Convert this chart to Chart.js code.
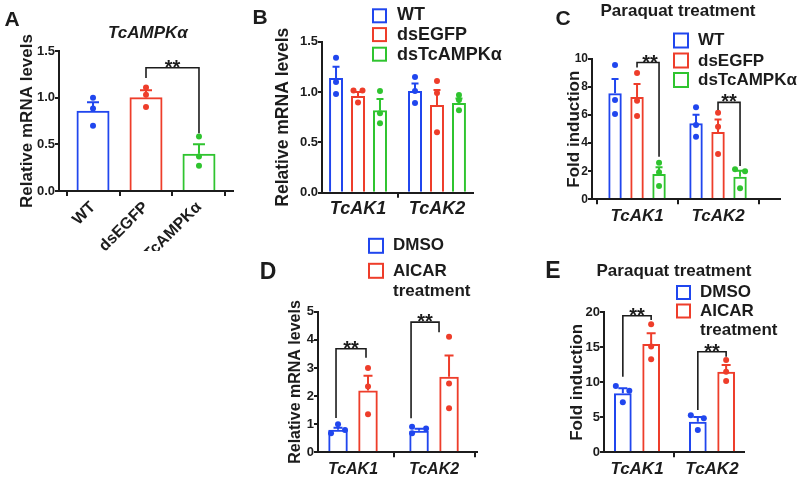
<!DOCTYPE html>
<html><head><meta charset="utf-8">
<script src="https://cdn.jsdelivr.net/npm/chart.js@4.4.1/dist/chart.umd.min.js"></script>
<style>
html,body{margin:0;padding:0;background:#fff;}
#wrap{position:relative;width:800px;height:478px;overflow:hidden;background:#fff;}
canvas{position:absolute;left:0;top:0;}
</style></head><body>
<div id="wrap">
<canvas id="cA" width="800" height="478"></canvas>
<canvas id="cB" width="800" height="478"></canvas>
<canvas id="cC" width="800" height="478"></canvas>
<canvas id="cD" width="800" height="478"></canvas>
<canvas id="cE" width="800" height="478"></canvas>
</div>
<script>
// ================= DATA =================
// Panel A: TcAMPKα
const catsA = ['WT', 'dsEGFP', 'dsTcAMPKα'];
const meanA = [0.86, 1.005, 0.40];
const semA  = [0.09, 0.075, 0.10];
const ptsA  = [[1.00, 0.885, 0.70], [1.11, 1.03, 0.90], [0.585, 0.37, 0.27]];
const yTicksA = [0, 0.5, 1.0, 1.5];

// Panel B: relative mRNA levels
const catsB = ['TcAK1', 'TcAK2'];
const namesB = ['WT', 'dsEGFP', 'dsTcAMPKα'];
const meanB_WT = [1.14, 1.01];   const semB_WT = [0.11, 0.075];
const ptsB_WT  = [[1.34, 1.10, 0.98], [1.15, 1.01, 0.89]];
const meanB_EG = [0.96, 0.87];   const semB_EG = [0.04, 0.15];
const ptsB_EG  = [[1.015, 1.015, 0.895], [1.11, 0.99, 0.60]];
const meanB_KD = [0.82, 0.89];   const semB_KD = [0.11, 0.045];
const ptsB_KD  = [[1.01, 0.79, 0.69], [0.97, 0.92, 0.82]];
const yTicksB = [0, 0.5, 1.0, 1.5];

// Panel C: paraquat fold induction
const catsC = ['TcAK1', 'TcAK2'];
const namesC = ['WT', 'dsEGFP', 'dsTcAMPKα'];
const meanC_WT = [7.55, 5.42];   const semC_WT = [1.03, 0.60];
const ptsC_WT  = [[9.57, 7.08, 6.08], [6.56, 5.30, 4.45]];
const meanC_EG = [7.30, 4.80];   const semC_EG = [0.92, 0.88];
const ptsC_EG  = [[9.00, 7.03, 5.94], [6.17, 5.17, 3.23]];
const meanC_KD = [1.80, 1.61];   const semC_KD = [0.48, 0.43];
const ptsC_KD  = [[2.60, 1.92, 0.95], [2.14, 2.00, 0.78]];
const yTicksC = [0, 2, 4, 6, 8, 10];

// Panel D: AICAR, relative mRNA levels
const catsD = ['TcAK1', 'TcAK2'];
const namesD = ['DMSO', 'AICAR', 'treatment'];
const meanD_DM = [0.80, 0.77];   const semD_DM = [0.07, 0.07];
const ptsD_DM  = [[1.00, 0.68, 0.79], [0.91, 0.85, 0.68]];
const meanD_AI = [2.20, 2.69];   const semD_AI = [0.52, 0.75];
const ptsD_AI  = [[3.00, 2.34, 1.35], [4.11, 2.45, 1.57]];
const yTicksD = [0, 1, 2, 3, 4, 5];

// Panel E: AICAR, paraquat fold induction
const catsE = ['TcAK1', 'TcAK2'];
const meanE_DM = [8.43, 4.38];   const semE_DM = [0.71, 0.66];
const ptsE_DM  = [[9.47, 8.80, 7.14], [5.28, 4.86, 3.19]];
const meanE_AI = [15.47, 11.52]; const semE_AI = [1.53, 0.95];
const ptsE_AI  = [[18.3, 15.1, 13.3], [13.19, 11.5, 10.19]];
const yTicksE = [0, 5, 10, 15, 20];

// ================= STYLE =================
const FONT = "'Liberation Sans', Arial, Helvetica, sans-serif";
const INK = '#1c1c1c';
const BLUE = '#2046ee', RED = '#ee3d2a', GREEN = '#2fc42f';

function decor(P) {
  return {
    id: 'decor',
    afterDatasetsDraw(chart) {
      const ctx = chart.ctx, ys = chart.scales.y;
      ctx.save();
      P.series.forEach((s, si) => {
        const meta = chart.getDatasetMeta(si);
        meta.data.forEach((bar, ci) => {
          const col = Array.isArray(s.color) ? s.color[ci] : s.color;
          const y0 = ys.getPixelForValue(s.mean[ci]);
          const y1 = ys.getPixelForValue(s.mean[ci] + s.sem[ci]);
          ctx.strokeStyle = col; ctx.lineWidth = 2; ctx.lineCap = 'butt';
          ctx.beginPath();
          ctx.moveTo(bar.x, y0); ctx.lineTo(bar.x, y1);
          ctx.moveTo(bar.x - P.capW / 2, y1); ctx.lineTo(bar.x + P.capW / 2, y1);
          ctx.stroke();
          ctx.fillStyle = col;
          s.pts[ci].forEach((v, k) => {
            const jx = (s.jit && s.jit[ci]) ? s.jit[ci][k] : 0;
            ctx.beginPath();
            ctx.arc(bar.x + jx, ys.getPixelForValue(v), P.ptR, 0, Math.PI * 2);
            ctx.fill();
          });
        });
      });
      (P.brackets || []).forEach(b => {
        const ba = chart.getDatasetMeta(b.a[0]).data[b.a[1]];
        const bb = chart.getDatasetMeta(b.b[0]).data[b.b[1]];
        const xa = ba.x + (b.dxa || 0), xb = bb.x + (b.dxb || 0);
        const yt = ys.getPixelForValue(b.top);
        const ya = ys.getPixelForValue(b.aEnd), yb = ys.getPixelForValue(b.bEnd);
        ctx.strokeStyle = INK; ctx.lineWidth = 1.6;
        ctx.beginPath();
        ctx.moveTo(xa, ya); ctx.lineTo(xa, yt); ctx.lineTo(xb, yt); ctx.lineTo(xb, yb);
        ctx.stroke();
        ctx.font = 'bold ' + P.starSize + 'px ' + FONT;
        ctx.textAlign = 'center'; ctx.textBaseline = 'alphabetic'; ctx.fillStyle = INK;
        ctx.fillText('**', (xa + xb) / 2 + (b.sdx || 0), yt + P.starSize * 0.3);
      });
      ctx.restore();
    },
    afterDraw(chart) {
      const ctx = chart.ctx;
      ctx.save();
      ctx.fillStyle = INK; ctx.textBaseline = 'middle';
      (P.texts || []).forEach(t => {
        ctx.font = (t.style || '') + ' bold ' + t.size + 'px ' + FONT;
        ctx.textAlign = t.align || 'center';
        ctx.fillText(t.t, t.x, t.y);
      });
      const L = P.legend;
      if (L) {
        L.rows.forEach(r => {
          ctx.strokeStyle = r.color; ctx.lineWidth = 2;
          ctx.strokeRect(L.bx + 1, r.by - L.bs / 2 + 1, L.bs - 2, L.bs - 2);
          ctx.fillStyle = INK; ctx.textAlign = 'left';
          ctx.font = 'bold ' + L.fs + 'px ' + FONT;
          r.lines.forEach(l => ctx.fillText(l.t, L.tx, l.y));
        });
      }
      ctx.restore();
    }
  };
}

function panel(id, P) {
  const lh = P.yTitleSize * 1.2;
  const padLeft = P.yTitleX - lh / 2;
  const yW = P.area.left - padLeft;
  const xH = P.xAxisH;
  const datasets = P.series.map(s => ({
    label: s.name,
    data: P.cats.map((c, i) => ({ x: i, y: s.mean[i] })),
    backgroundColor: 'rgba(255,255,255,0)',
    borderColor: s.color,
    borderWidth: 2,
    borderSkipped: 'start',
    categoryPercentage: P.catPct,
    barPercentage: P.barPct
  }));
  const xGrid = { drawOnChartArea: false, drawTicks: true, tickLength: 5, lineWidth: 2, color: INK };
  const yGrid = { drawOnChartArea: false, drawTicks: true, tickLength: 4, lineWidth: 2, color: INK };
  const axisBorder = { display: true, width: 2, color: INK };
  return new Chart(document.getElementById(id), {
    type: 'bar',
    data: { datasets },
    options: {
      responsive: false, animation: false, devicePixelRatio: 1,
      layout: { padding: { left: padLeft, top: P.area.top, right: 800 - P.area.right, bottom: 478 - P.area.bottom - xH } },
      plugins: { legend: { display: false }, tooltip: { enabled: false }, title: { display: false } },
      scales: {
        x: {
          type: 'linear', min: P.xMin, max: P.xMax, offset: false,
          afterBuildTicks: sc => { sc.ticks = P.cats.map((c, i) => ({ value: i })); },
          afterFit: sc => { sc.height = xH; },
          ticks: {
            callback: v => P.cats[v], autoSkip: false,
            maxRotation: P.xRot, minRotation: P.xRot, padding: P.xPad,
            color: INK, font: P.xTickFont
          },
          grid: xGrid, border: axisBorder
        },
        y: {
          min: P.yTicks[0], max: P.yTicks[P.yTicks.length - 1],
          afterBuildTicks: sc => { sc.ticks = P.yTicks.map(v => ({ value: v })); },
          afterFit: sc => { sc.width = yW; },
          ticks: {
            callback: v => Number(v).toFixed(P.yDec), padding: 0, color: INK,
            font: { family: FONT, weight: 'bold', size: P.yTickSize }
          },
          grid: yGrid, border: axisBorder,
          title: {
            display: true, text: P.yTitle, color: INK,
            font: { family: FONT, weight: 'bold', size: P.yTitleSize },
            padding: { top: 0, bottom: 0 }
          }
        }
      }
    },
    plugins: [decor(P)]
  });
}

const italicBold = s => ({ family: FONT, weight: 'bold', style: 'italic', size: s });

// ---------- Panel A ----------
panel('cA', {
  cats: catsA,
  series: [{ name: 'TcAMPKα', color: [BLUE, RED, GREEN], mean: meanA, sem: semA, pts: ptsA }],
  yTicks: yTicksA, yDec: 1, yTickSize: 13,
  area: { left: 59, right: 233, top: 51, bottom: 191 },
  xMin: -0.642, xMax: 2.642, catPct: 1, barPct: 0.623,
  yTitle: 'Relative mRNA levels', yTitleSize: 17, yTitleX: 27,
  xTickFont: { family: FONT, weight: 'bold', size: 16 }, xRot: 45, xPad: 2, xAxisH: 60,
  capW: 12, ptR: 3, starSize: 20,
  brackets: [{ a: [0, 1], b: [0, 2], top: 1.32, aEnd: 1.21, bEnd: 0.62 }],
  texts: [
    { t: 'A', x: 12, y: 20, size: 21 },
    { t: 'TcAMPKα', x: 148, y: 33.5, size: 17, style: 'italic' }
  ]
});

// ---------- Panel B ----------
panel('cB', {
  cats: catsB,
  series: [
    { name: namesB[0], color: BLUE, mean: meanB_WT, sem: semB_WT, pts: ptsB_WT },
    { name: namesB[1], color: RED, mean: meanB_EG, sem: semB_EG, pts: ptsB_EG, jit: [[-4.5, 4.5, 0], [0, 0, 0]] },
    { name: namesB[2], color: GREEN, mean: meanB_KD, sem: semB_KD, pts: ptsB_KD }
  ],
  yTicks: yTicksB, yDec: 1, yTickSize: 13,
  area: { left: 322, right: 473, top: 41.7, bottom: 192.7 },
  xMin: -0.456, xMax: 1.456, catPct: 0.835, barPct: 0.636,
  yTitle: 'Relative mRNA levels', yTitleSize: 17.5, yTitleX: 283,
  xTickFont: italicBold(18), xRot: 0, xPad: 1, xAxisH: 40,
  capW: 7, ptR: 3, starSize: 20,
  texts: [{ t: 'B', x: 260, y: 18, size: 21 }],
  legend: {
    bx: 372, bs: 15, tx: 397, fs: 18,
    rows: [
      { color: BLUE, by: 15.8, lines: [{ t: namesB[0], y: 15.5 }] },
      { color: RED, by: 34.6, lines: [{ t: namesB[1], y: 35 }] },
      { color: GREEN, by: 54.2, lines: [{ t: namesB[2], y: 55.5 }] }
    ]
  }
});

// ---------- Panel C ----------
panel('cC', {
  cats: catsC,
  series: [
    { name: namesC[0], color: BLUE, mean: meanC_WT, sem: semC_WT, pts: ptsC_WT },
    { name: namesC[1], color: RED, mean: meanC_EG, sem: semC_EG, pts: ptsC_EG },
    { name: namesC[2], color: GREEN, mean: meanC_KD, sem: semC_KD, pts: ptsC_KD, jit: [[0, 0, 0], [-5, 5, 0]] }
  ],
  yTicks: yTicksC, yDec: 0, yTickSize: 12,
  area: { left: 592, right: 780, top: 59, bottom: 199.3 },
  xMin: -0.556, xMax: 1.765, catPct: 0.815, barPct: 0.61,
  yTitle: 'Fold induction', yTitleSize: 17, yTitleX: 574,
  xTickFont: italicBold(17), xRot: 0, xPad: 2, xAxisH: 40,
  capW: 7, ptR: 3, starSize: 20,
  brackets: [
    { a: [1, 0], b: [2, 0], top: 9.75, aEnd: 9.39, bEnd: 3.04, sdx: 2 },
    { a: [1, 1], b: [2, 1], top: 6.91, aEnd: 6.36, bEnd: 2.37 }
  ],
  texts: [
    { t: 'C', x: 563, y: 19, size: 21 },
    { t: 'Paraquat treatment', x: 678, y: 11, size: 17 }
  ],
  legend: {
    bx: 673, bs: 16, tx: 698, fs: 17,
    rows: [
      { color: BLUE, by: 40.5, lines: [{ t: namesC[0], y: 40.5 }] },
      { color: RED, by: 60.5, lines: [{ t: namesC[1], y: 61 }] },
      { color: GREEN, by: 80, lines: [{ t: namesC[2], y: 80.5 }] }
    ]
  }
});

// ---------- Panel D ----------
panel('cD', {
  cats: catsD,
  series: [
    { name: namesD[0], color: BLUE, mean: meanD_DM, sem: semD_DM, pts: ptsD_DM, jit: [[0, -7, 7], [-7, 7, -7]] },
    { name: namesD[1], color: RED, mean: meanD_AI, sem: semD_AI, pts: ptsD_AI }
  ],
  yTicks: yTicksD, yDec: 0, yTickSize: 13,
  area: { left: 318, right: 477, top: 311.7, bottom: 452.3 },
  xMin: -0.432, xMax: 1.53, catPct: 0.74, barPct: 0.65,
  yTitle: 'Relative mRNA levels', yTitleSize: 16, yTitleX: 296,
  xTickFont: italicBold(16), xRot: 0, xPad: 3, xAxisH: 25,
  capW: 9, ptR: 3, starSize: 20,
  brackets: [
    { a: [0, 0], b: [1, 0], top: 3.68, aEnd: 1.22, bEnd: 3.36, dxa: -2, dxb: -2 },
    { a: [0, 1], b: [1, 1], top: 4.63, aEnd: 1.21, bEnd: 4.27, dxa: -8, dxb: -10 }
  ],
  texts: [{ t: 'D', x: 268, y: 273, size: 23 }],
  legend: {
    bx: 368, bs: 16, tx: 393, fs: 17,
    rows: [
      { color: BLUE, by: 245.8, lines: [{ t: namesD[0], y: 245 }] },
      { color: RED, by: 270.8, lines: [{ t: namesD[1], y: 271.7 }, { t: namesD[2], y: 291.7 }] }
    ]
  }
});

// ---------- Panel E ----------
panel('cE', {
  cats: catsE,
  series: [
    { name: namesD[0], color: BLUE, mean: meanE_DM, sem: semE_DM, pts: ptsE_DM, jit: [[-7, 6.5, 0], [-7, 6, 0]] },
    { name: namesD[1], color: RED, mean: meanE_AI, sem: semE_AI, pts: ptsE_AI }
  ],
  yTicks: yTicksE, yDec: 0, yTickSize: 13,
  area: { left: 604, right: 744, top: 312.3, bottom: 452.3 },
  xMin: -0.44, xMax: 1.427, catPct: 0.755, barPct: 0.625,
  yTitle: 'Fold induction', yTitleSize: 17, yTitleX: 577.3,
  xTickFont: italicBold(17), xRot: 0, xPad: 1.5, xAxisH: 25,
  capW: 9, ptR: 3, starSize: 20,
  brackets: [
    { a: [0, 0], b: [1, 0], top: 19.51, aEnd: 10.8, bEnd: 18.9 },
    { a: [0, 1], b: [1, 1], top: 14.37, aEnd: 6.04, bEnd: 13.66 }
  ],
  texts: [
    { t: 'E', x: 553, y: 272, size: 23 },
    { t: 'Paraquat treatment', x: 674, y: 271, size: 17 }
  ],
  legend: {
    bx: 676, bs: 15, tx: 700, fs: 17,
    rows: [
      { color: BLUE, by: 292.5, lines: [{ t: namesD[0], y: 292.3 }] },
      { color: RED, by: 311, lines: [{ t: namesD[1], y: 311 }, { t: namesD[2], y: 330 }] }
    ]
  }
});
</script>
</body></html>
